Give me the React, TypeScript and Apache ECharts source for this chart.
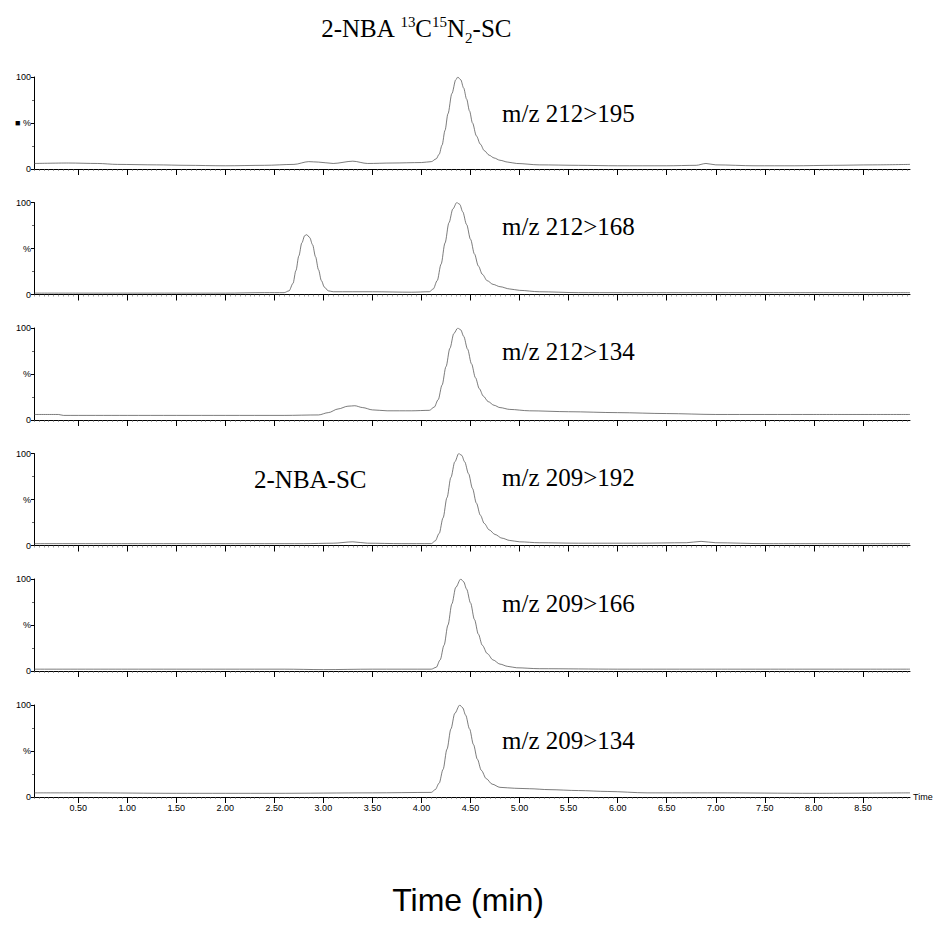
import React, { useEffect, useRef } from 'react';
import * as echarts from 'echarts';

// ---- data (time in min, relative intensity in %) ----
const panelLabels = ['m/z 212>195', 'm/z 212>168', 'm/z 212>134', 'm/z 209>192', 'm/z 209>166', 'm/z 209>134'];
const yPercentLabels = ['■ %', '%', '%', '%', '%', '%'];
const timeTickLabels = [0.5, 1.0, 1.5, 2.0, 2.5, 3.0, 3.5, 4.0, 4.5, 5.0, 5.5, 6.0, 6.5, 7.0, 7.5, 8.0, 8.5];

const s212_195 = [
  [0.05, 6], [0.4, 6.5], [0.7, 6], [0.9, 5], [1.3, 4.5], [1.6, 4], [2.0, 3.5], [2.4, 4], [2.7, 5], [2.85, 8], [2.95, 7.5],
  [3.1, 6], [3.3, 8.5], [3.45, 6], [3.7, 6.5], [4.0, 7], [4.1, 8], [4.15, 11], [4.18, 16], [4.21, 26], [4.24, 42],
  [4.27, 60], [4.31, 82], [4.35, 97], [4.37, 100], [4.40, 97], [4.43, 88], [4.46, 76], [4.49, 63], [4.52, 50],
  [4.56, 36], [4.60, 27], [4.64, 20], [4.69, 15], [4.74, 12], [4.80, 9.5], [4.88, 7.5], [4.97, 6], [5.2, 4.5],
  [5.6, 4], [6.0, 3.5], [6.5, 3.5], [6.8, 4], [6.9, 6], [7.0, 4.5], [7.4, 3.5], [7.8, 3.5], [8.2, 4], [8.6, 4.5], [8.98, 5],
];
const s212_168 = [
  [0.05, 1.5], [0.5, 1.5], [1.0, 1.5], [1.5, 1.5], [2.0, 1.5], [2.4, 2], [2.6, 2], [2.65, 4], [2.69, 12], [2.72, 26],
  [2.75, 42], [2.78, 56], [2.81, 64], [2.83, 65], [2.86, 62], [2.89, 54], [2.92, 41], [2.95, 27], [2.98, 15], [3.01, 8],
  [3.05, 4], [3.1, 3], [3.5, 3], [3.9, 2.5], [4.08, 3], [4.12, 6], [4.16, 15], [4.20, 33], [4.24, 56], [4.28, 78],
  [4.32, 93], [4.36, 100], [4.39, 98], [4.42, 90], [4.46, 76], [4.50, 60], [4.54, 44], [4.58, 31], [4.62, 22],
  [4.67, 15], [4.73, 11], [4.80, 8.5], [4.90, 6], [5.0, 4.5], [5.2, 3], [5.6, 2], [6.5, 2], [7.5, 2], [8.98, 2],
];
const s212_134 = [
  [0.05, 6], [0.3, 6], [0.35, 5], [1.0, 5], [2.0, 5], [2.6, 5], [2.95, 5.5], [3.05, 8], [3.15, 12], [3.25, 15],
  [3.32, 15.5], [3.40, 13.5], [3.50, 11], [3.65, 10], [3.9, 10], [4.08, 10.5], [4.13, 14], [4.17, 22], [4.21, 38],
  [4.25, 58], [4.29, 78], [4.33, 94], [4.37, 100], [4.40, 98], [4.43, 91], [4.47, 77], [4.51, 61], [4.55, 46],
  [4.59, 34], [4.63, 26], [4.68, 20], [4.74, 16], [4.80, 13.5], [4.90, 11.5], [5.1, 10], [5.5, 9], [6.0, 8],
  [6.5, 7], [7.0, 6], [8.0, 6], [8.98, 6],
];
const s209_192 = [
  [0.05, 2], [1.0, 2], [2.0, 2], [2.8, 2], [3.1, 2.5], [3.3, 4], [3.45, 2.5], [3.8, 2], [4.1, 2], [4.14, 5],
  [4.18, 13], [4.22, 30], [4.26, 52], [4.30, 74], [4.34, 91], [4.38, 100], [4.41, 98], [4.44, 91], [4.48, 78],
  [4.52, 62], [4.56, 46], [4.60, 33], [4.64, 24], [4.69, 17], [4.75, 12], [4.82, 8], [4.90, 5.5], [5.0, 4],
  [5.2, 3], [5.6, 2.5], [6.2, 2.5], [6.7, 3], [6.85, 4.5], [7.0, 3], [7.5, 2], [8.98, 2],
];
const s209_166 = [
  [0.05, 2], [1.0, 2], [2.0, 2], [2.6, 2], [3.0, 1.5], [3.5, 2], [4.1, 2], [4.15, 4], [4.19, 12], [4.23, 28],
  [4.27, 50], [4.31, 73], [4.35, 91], [4.40, 100], [4.43, 97], [4.46, 89], [4.50, 74], [4.54, 56], [4.58, 40],
  [4.62, 28], [4.67, 19], [4.73, 12], [4.80, 7.5], [4.88, 5], [4.97, 3.5], [5.2, 2.5], [6.0, 2], [7.0, 2], [8.98, 2],
];
const s209_134 = [
  [0.05, 4.5], [0.6, 4.5], [1.5, 4], [2.5, 4], [3.5, 4.5], [4.1, 5], [4.14, 8], [4.18, 15], [4.22, 30], [4.26, 52],
  [4.30, 74], [4.34, 91], [4.39, 100], [4.42, 97], [4.45, 89], [4.49, 74], [4.53, 57], [4.57, 41], [4.61, 29],
  [4.66, 20], [4.72, 14], [4.80, 10.5], [4.95, 9.5], [5.1, 9], [5.3, 8], [5.6, 7], [5.9, 6], [6.3, 4.5], [7.0, 4.5],
  [8.0, 4], [8.98, 4.5],
];
const panelSeries = [s212_195, s212_168, s212_134, s209_192, s209_166, s209_134];

// ---- layout ----
const X_MIN = 0.05;
const X_MAX = 8.98;
const GRID_TOPS = [77, 202.5, 328, 453.5, 579, 705];
const GRID_H = 92;
const GRID_LEFT = 34;
const GRID_W = 876;
const LABEL_Y = [113, 226, 351, 477, 603, 740];
const SERIF = '"Liberation Serif", "Times New Roman", serif';
const SANS = '"Liberation Sans", Arial, sans-serif';

function buildOption() {
  const minorTicks: number[] = [];
  for (let k = 1; k * 0.05 < X_MAX; k++) minorTicks.push(Math.round(k * 5) / 100);

  const grid: any[] = [];
  const xAxis: any[] = [];
  const yAxis: any[] = [];
  const series: any[] = [];

  panelSeries.forEach((data, i) => {
    const last = i === panelSeries.length - 1;
    grid.push({ left: GRID_LEFT, top: GRID_TOPS[i], width: GRID_W, height: GRID_H });
    xAxis.push({
      type: 'value', gridIndex: i, position: 'bottom', min: X_MIN, max: X_MAX,
      axisLine: { show: true, onZero: false, lineStyle: { color: '#000', width: 1 } },
      axisTick: { show: true, customValues: minorTicks, length: 2, lineStyle: { color: '#666', width: 0.6 } },
      axisLabel: { show: false }, splitLine: { show: false },
    });
    xAxis.push({
      type: 'value', gridIndex: i, position: 'bottom', min: X_MIN, max: X_MAX,
      axisLine: { show: false, onZero: false },
      axisTick: { show: true, customValues: timeTickLabels, length: 6, lineStyle: { color: '#000', width: 1 } },
      axisLabel: {
        show: last, customValues: timeTickLabels, formatter: (v: number) => v.toFixed(2),
        fontSize: 9, color: '#000', margin: 6, fontFamily: SANS,
      },
      splitLine: { show: false },
      name: last ? 'Time' : '', nameLocation: 'end', nameGap: 3,
      nameTextStyle: { fontSize: 9, color: '#000', fontFamily: SANS, verticalAlign: 'middle' },
    });
    yAxis.push({
      type: 'value', gridIndex: i, min: 0, max: 100, interval: 50,
      axisLine: { show: true, lineStyle: { color: '#000', width: 1 } },
      axisTick: { show: true, length: 3, lineStyle: { color: '#000' } },
      minorTick: { show: true, splitNumber: 2, length: 2, lineStyle: { color: '#666' } },
      axisLabel: {
        fontSize: 9, color: '#000', margin: 3, fontFamily: SANS,
        formatter: (v: number) => (v === 50 ? yPercentLabels[i] : String(v)),
      },
      splitLine: { show: false },
    });
    series.push({
      type: 'line', xAxisIndex: 2 * i, yAxisIndex: i, data, showSymbol: false, silent: true,
      smooth: 0.3, smoothMonotone: 'x',
      lineStyle: { width: 0.7, color: '#444' },
    });
  });

  const graphic: any[] = [
    {
      type: 'text', x: 416, y: 28,
      style: {
        text: '{n|2-NBA }{sup|13}{n|C}{sup|15}{n|N}{sub|2}{n|-SC}',
        align: 'center', verticalAlign: 'middle',
        rich: {
          n: { fontSize: 25, fontFamily: SERIF, fill: '#000', lineHeight: 34, verticalAlign: 'middle' },
          sup: { fontSize: 15, fontFamily: SERIF, fill: '#000', lineHeight: 15, verticalAlign: 'top', padding: [3, 0, 0, 0] },
          sub: { fontSize: 15, fontFamily: SERIF, fill: '#000', lineHeight: 15, verticalAlign: 'bottom' },
        },
      },
    },
    {
      type: 'text', x: 468, y: 900,
      style: { text: 'Time (min)', fontSize: 32, fontFamily: SANS, fill: '#000', align: 'center', verticalAlign: 'middle' },
    },
    {
      type: 'text', x: 254, y: 479,
      style: { text: '2-NBA-SC', fontSize: 25, fontFamily: SERIF, fill: '#000', align: 'left', verticalAlign: 'middle' },
    },
  ];
  panelLabels.forEach((t, i) => {
    graphic.push({
      type: 'text', x: 502, y: LABEL_Y[i],
      style: { text: t, fontSize: 25, fontFamily: SERIF, fill: '#000', align: 'left', verticalAlign: 'middle' },
    });
  });

  return {
    animation: false,
    backgroundColor: '#fff',
    grid, xAxis, yAxis, series, graphic,
  };
}

export default function App() {
  const ref = useRef<HTMLDivElement>(null);
  useEffect(() => {
    if (!ref.current) return;
    const chart = echarts.init(ref.current, undefined, { renderer: 'svg' });
    chart.setOption(buildOption() as any);
    return () => chart.dispose();
  }, []);
  return (
    <div
      ref={ref}
      style={{ position: 'fixed', left: 0, top: 0, width: 936, height: 952, background: '#fff' }}
    />
  );
}
